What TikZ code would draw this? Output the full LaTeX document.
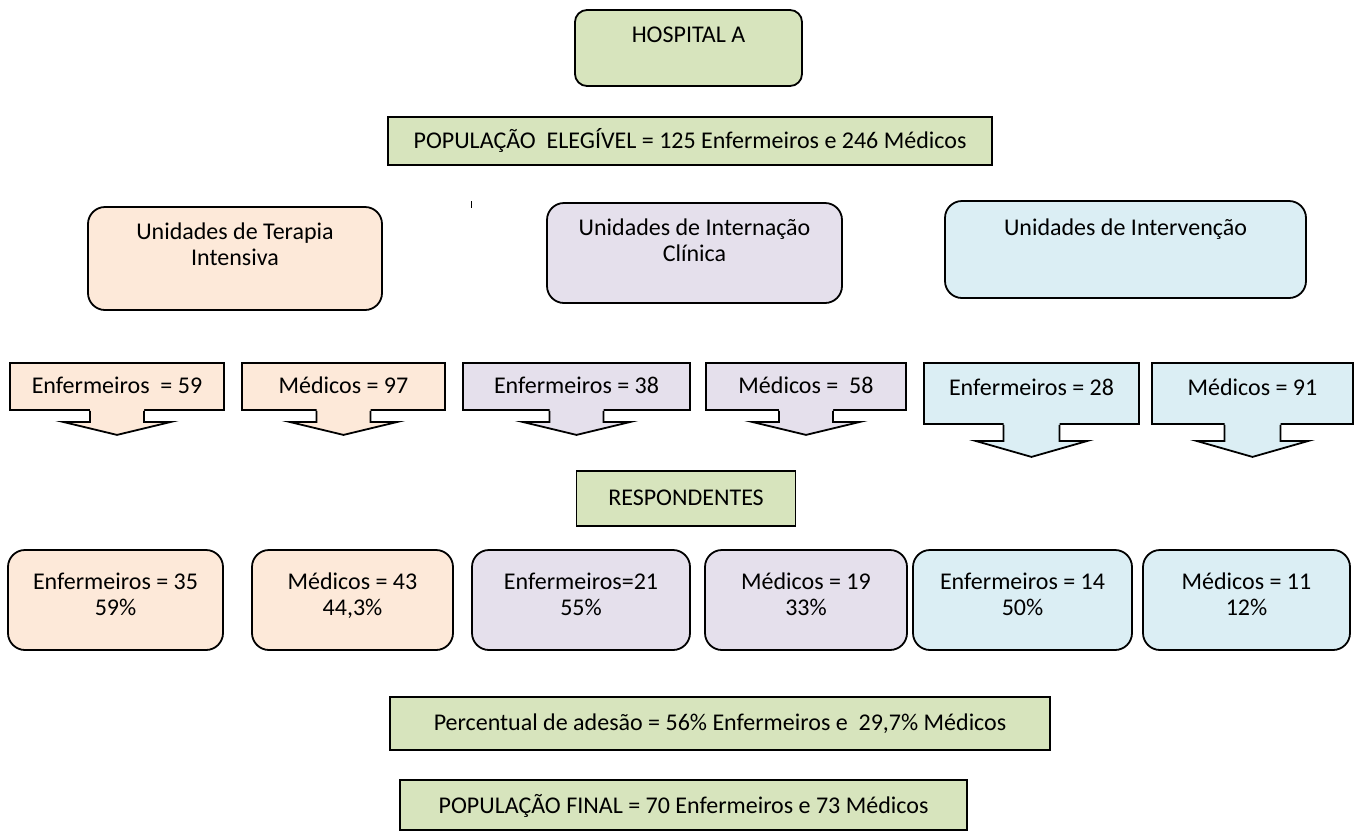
\documentclass[tikz,border=0pt]{standalone}
\usepackage{fontspec}
\setmainfont{Carlito}
\usetikzlibrary{calc}

\definecolor{boxgreen}{HTML}{D7E4BD}
\definecolor{boxpeach}{HTML}{FDE9D9}
\definecolor{boxlilac}{HTML}{E5E0EC}
\definecolor{boxblue}{HTML}{DBEEF4}

% arrow under a count box: node, colour, stem half width, head half width, stem length, head length
\newcommand{\downcallout}[6]{%
  \fill[#2] ($(#1.south)+(-#3,-2)$) -- ($(#1.south)+(-#3,#5)$) -- ($(#1.south)+(-#4,#5)$)
    -- ($(#1.south)+(0,#5+#6)$) -- ($(#1.south)+(#4,#5)$) -- ($(#1.south)+(#3,#5)$)
    -- ($(#1.south)+(#3,-2)$) -- cycle;
  \draw ($(#1.south)+(-#3,0)$) -- ($(#1.south)+(-#3,#5)$) -- ($(#1.south)+(-#4,#5)$)
    -- ($(#1.south)+(0,#5+#6)$) -- ($(#1.south)+(#4,#5)$) -- ($(#1.south)+(#3,#5)$)
    -- ($(#1.south)+(#3,0)$);
}

\begin{document}
\begin{tikzpicture}[x=0.5pt,y=-0.5pt,line width=0.9pt,
every node/.style={font=\fontsize{12}{13}\selectfont,inner sep=0pt,align=center},
plainbox/.style={draw,fill=#1},
roundbox/.style={draw,fill=#1,rounded corners=8.5pt},
dims/.style n args={3}{minimum width=#1,text height=#2,text depth=#3}
]
\useasboundingbox (0,0) rectangle (1360,836);

% top
\node[roundbox=boxgreen,rounded corners=6pt,dims={113.5pt}{16.35pt}{21.65pt}] (hosp) at (688.5,48) {HOSPITAL A};
\node[plainbox=boxgreen,dims={302pt}{15.5pt}{8.5pt}] (elig) at (690,141) {POPULAÇÃO~ ELEGÍVEL = 125 Enfermeiros e 246 Médicos};
\draw[line width=0.5pt] (471,201) -- (471,208);

% unidades
\node[roundbox=boxpeach,dims={147pt}{29pt}{22.5pt}] (uti) at (235,258.5) {Unidades de Terapia\\Intensiva};
\node[roundbox=boxlilac,dims={147.5pt}{29pt}{21pt}] (uic) at (694.5,253) {Unidades de Internação\\Clínica};
\node[roundbox=boxblue,dims={180.5pt}{17pt}{31.5pt}] (uiv) at (1125.5,249.5) {Unidades de Intervenção};

% elegiveis por unidade
\node[plainbox=boxpeach,dims={107pt}{15pt}{8.5pt}] (ne1) at (117,386.5) {Enfermeiros~ = 59};
\node[plainbox=boxpeach,dims={101.5pt}{15pt}{8.5pt}] (nm1) at (343.5,386.5) {Médicos = 97};
\node[plainbox=boxlilac,dims={113.5pt}{15pt}{8.5pt}] (ne2) at (576.5,386.5) {Enfermeiros = 38};
\node[plainbox=boxlilac,dims={100pt}{15pt}{8.5pt}] (nm2) at (806,386.5) {Médicos =~ 58};
\node[plainbox=boxblue,dims={107.5pt}{16pt}{14.5pt}] (ne3) at (1031.5,393.5) {Enfermeiros = 28};
\node[plainbox=boxblue,dims={100.5pt}{16pt}{14.5pt}] (nm3) at (1252.5,393.5) {Médicos = 91};
\downcallout{ne1}{boxpeach}{27}{54}{11}{13}
\downcallout{nm1}{boxpeach}{27}{54}{11}{13}
\downcallout{ne2}{boxlilac}{27}{54}{11}{13}
\downcallout{nm2}{boxlilac}{27}{54}{11}{13}
\downcallout{ne3}{boxblue}{28}{56}{16}{16}
\downcallout{nm3}{boxblue}{28}{56}{16}{16}

% respondentes
\node[plainbox=boxgreen,dims={109.5pt}{17.25pt}{10.25pt}] (resp) at (686,498.5) {RESPONDENTES};
\node[roundbox=boxpeach,dims={107.5pt}{32.5pt}{17.5pt}] (re1) at (115.5,600) {Enfermeiros = 35\\59\%};
\node[roundbox=boxpeach,dims={100.5pt}{32.5pt}{17.5pt}] (rm1) at (352.5,600) {Médicos = 43\\44,3\%};
\node[roundbox=boxlilac,dims={109pt}{32.5pt}{17.5pt}] (re2) at (581,600) {Enfermeiros=21\\55\%};
\node[roundbox=boxlilac,dims={101pt}{32.5pt}{17.5pt}] (rm2) at (806,600) {Médicos = 19\\33\%};
\node[roundbox=boxblue,dims={109.5pt}{32.5pt}{17.5pt}] (re3) at (1022.5,600) {Enfermeiros = 14\\50\%};
\node[roundbox=boxblue,dims={103.5pt}{32.5pt}{17.5pt}] (rm3) at (1246.5,600) {Médicos = 11\\12\%};

% totais
\node[plainbox=boxgreen,dims={330pt}{16.5pt}{10pt}] (perc) at (720,723.5) {Percentual de adesão = 56\% Enfermeiros e~ 29,7\% Médicos};
\node[plainbox=boxgreen,dims={283.5pt}{16.5pt}{8.5pt}] (final) at (683.5,805) {POPULAÇÃO FINAL = 70 Enfermeiros e 73 Médicos};
\end{tikzpicture}
\end{document}
